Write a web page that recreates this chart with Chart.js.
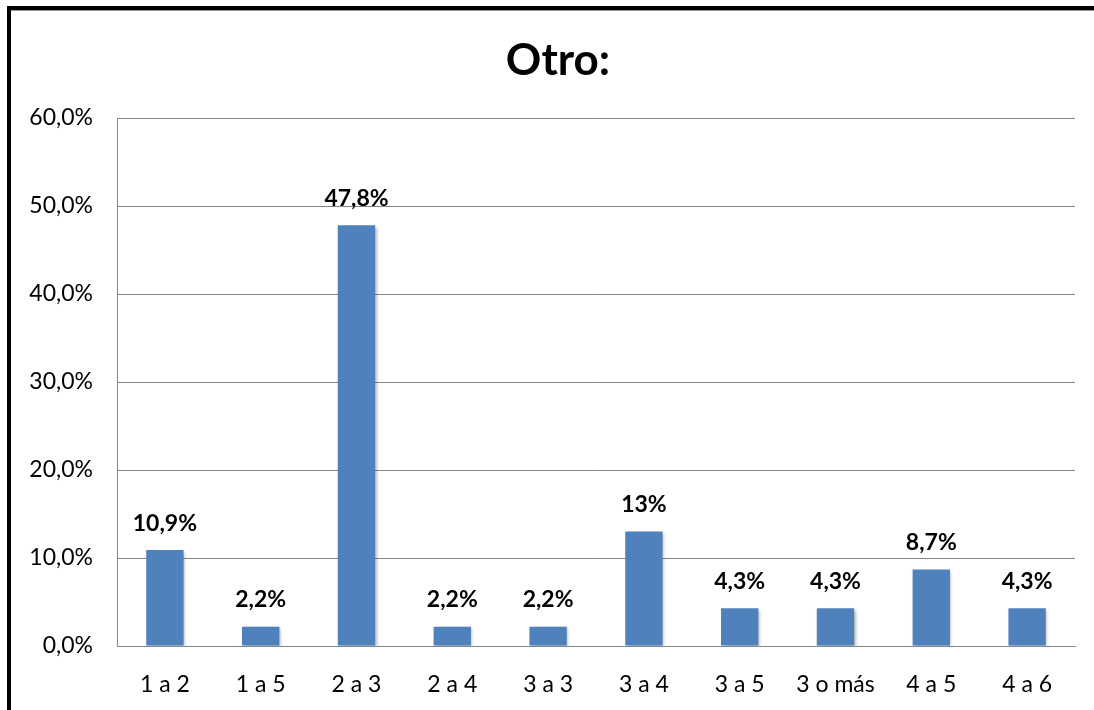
<!DOCTYPE html>
<html>
<head>
<meta charset="utf-8">
<script src="https://cdn.jsdelivr.net/npm/chart.js@4"></script>
<style>
html,body{margin:0;padding:0;background:#fff;}
#wrap{width:1094px;height:710px;position:relative;}
</style>
</head>
<body>
<div id="wrap"><canvas id="c" width="1094" height="710"></canvas></div>
<script>
const categories = ["1 a 2","1 a 5","2 a 3","2 a 4","3 a 3","3 a 4","3 a 5","3 o más","4 a 5","4 a 6"];
const values = [10.9, 2.2, 47.8, 2.2, 2.2, 13, 4.3, 4.3, 8.7, 4.3];
const valueLabels = ["10,9%","2,2%","47,8%","2,2%","2,2%","13%","4,3%","4,3%","8,7%","4,3%"];
const yTicks = [0,10,20,30,40,50,60];
const titleText = "Otro:";

const FONT = "Lato, 'Open Sans', sans-serif";
const GRID = "#868686";

const framePlugin = {
  id: 'frame',
  beforeDraw(chart){
    const ctx = chart.ctx;
    ctx.save();
    ctx.fillStyle = '#fff';
    ctx.fillRect(0,0,chart.width,chart.height);
    ctx.restore();
  },
  afterDraw(chart){
    const ctx = chart.ctx;
    ctx.save();
    ctx.fillStyle = '#000';
    ctx.fillRect(7, 6, chart.width - 7, 4);
    ctx.fillRect(7, 6, 4, chart.height - 6);
    ctx.fillStyle = '#9a9a9a';
    ctx.fillRect(11, 10, chart.width - 11, 1);
    ctx.fillStyle = '#000';
    ctx.font = "bold 44px " + FONT;
    ctx.textAlign = 'center';
    ctx.textBaseline = 'middle';
    ctx.fillText(titleText, 558, 61);
    ctx.restore();
  }
};

const shadowPlugin = {
  id: 'barShadow',
  beforeDatasetsDraw(chart){
    const ctx = chart.ctx;
    ctx.save();
    ctx.shadowColor = 'rgba(0,0,0,0.28)';
    ctx.shadowBlur = 3;
    ctx.shadowOffsetX = 1.5;
    ctx.shadowOffsetY = 1.5;
  },
  afterDatasetsDraw(chart){
    chart.ctx.restore();
  }
};

const labelPlugin = {
  id: 'valLabels',
  afterDatasetsDraw(chart){
    const ctx = chart.ctx;
    const meta = chart.getDatasetMeta(0);
    ctx.save();
    ctx.fillStyle = '#000';
    ctx.font = "bold 23px " + FONT;
    ctx.textAlign = 'center';
    ctx.textBaseline = 'middle';
    meta.data.forEach((bar, i) => {
      ctx.fillText(valueLabels[i], bar.x, bar.y - 27);
    });
    ctx.restore();
  }
};

new Chart(document.getElementById('c'), {
  type: 'bar',
  data: {
    labels: categories,
    datasets: [{
      data: values,
      backgroundColor: '#4F81BD',
      borderWidth: 0,
      categoryPercentage: 1.0,
      barPercentage: 0.39
    }]
  },
  options: {
    responsive: false,
    animation: false,
    events: [],
    layout: { padding: { top: 118, right: 19, left: 0, bottom: 0 } },
    plugins: {
      legend: { display: false },
      title: { display: false },
      tooltip: { enabled: false }
    },
    scales: {
      x: {
        grid: { display: false, drawTicks: false },
        border: { color: GRID, width: 1 },
        ticks: { color: '#000', font: { family: FONT, size: 23 }, padding: 25, maxRotation: 0 },
        afterFit(scale){ scale.height = 710 - 646; }
      },
      y: {
        min: 0, max: 60,
        afterBuildTicks(scale){ scale.ticks = yTicks.map(v => ({ value: v })); },
        grid: { color: GRID, lineWidth: 1, drawTicks: false },
        border: { color: GRID, width: 1 },
        ticks: {
          color: '#000',
          font: { family: FONT, size: 23 },
          padding: 24,
          callback: v => v.toFixed(1).replace('.', ',') + '%'
        },
        afterFit(scale){ scale.width = 117; }
      }
    }
  },
  plugins: [framePlugin, shadowPlugin, labelPlugin]
});
</script>
</body>
</html>
